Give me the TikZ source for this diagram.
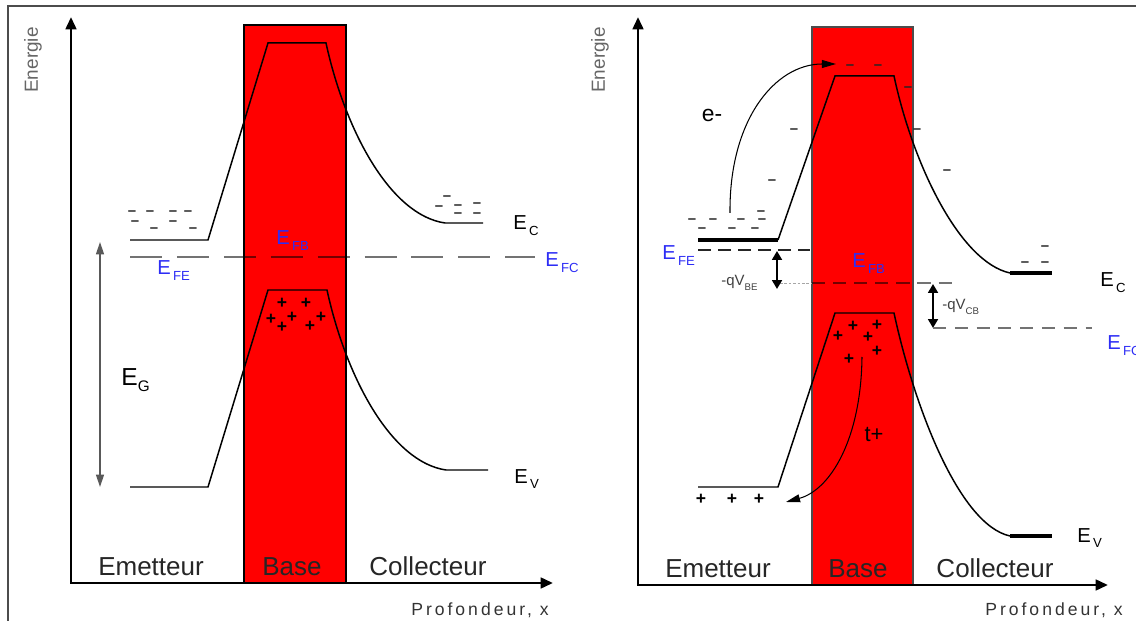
\documentclass[tikz,border=0pt]{standalone}
\usepackage{fontspec}
\setmainfont{Liberation Sans}
\newfontfamily\spacedfont[LetterSpace=17]{Liberation Sans}
\usepackage{tikz}
\usetikzlibrary{arrows.meta}

\definecolor{lvlblue}{RGB}{45,45,245}
\newcommand{\niveau}[2]{#1\raisebox{-3pt}{\fontsize{7.5}{8}\selectfont\,#2}}

\tikzset{
    cadre/.style={draw=black!70, line width=1pt},
    axe/.style={line width=1.6pt, {Triangle[length=7pt,width=6pt]}-{Triangle[length=7pt,width=6pt]}},
    baseL/.style={fill=red, draw=black, line width=1.7pt},
    baseR/.style={fill=red, draw=black!70, line width=0.8pt},
    band/.style={line width=0.85pt},
    bandthick/.style={line width=1.9pt},
    fermiline/.style={draw=black, draw opacity=0.55, line width=1.1pt, dash pattern=on 18.2pt off 8.5pt},
    efeR/.style={draw=black!85, line width=0.9pt, dash pattern=on 7.4pt off 4pt},
    efbR/.style={draw=black, draw opacity=0.55, line width=1.5pt, dash pattern=on 7.5pt off 4.5pt},
    efbthin/.style={draw=black!35, line width=0.4pt, dash pattern=on 1.5pt off 1pt},
    efcR/.style={draw=black!55, line width=1.4pt, dash pattern=on 7.4pt off 5pt},
    gaparrow/.style={draw=black!65, line width=0.7pt, {Triangle[length=7pt,width=4.5pt]}-{Triangle[length=7pt,width=4.5pt]}},
    bias/.style={line width=1.4pt, {Triangle[length=5pt,width=5.5pt]}-{Triangle[length=5pt,width=5.5pt]}},
    carrier/.style={line width=0.6pt, -{Triangle[length=8pt,width=4.5pt]}},
    region/.style={font=\fontsize{14.8}{16}\selectfont, text=black!85, inner sep=0pt, anchor=base},
    axislabel/.style={font=\fontsize{10.8}{12}\selectfont, text=black!60, inner sep=0pt},
    depthlabel/.style={font=\spacedfont\fontsize{10}{11}\selectfont, text=black!80, inner sep=0pt, anchor=base},
    lvlE/.style={font=\fontsize{11.5}{13}\selectfont, inner sep=0pt, anchor=base west},
    fermi/.style={lvlE, text=lvlblue},
    el/.style={font=\bfseries\fontsize{8.5}{9}\selectfont, inner sep=0pt, text=black!85},
    hole/.style={font=\bfseries\fontsize{10}{11}\selectfont, inner sep=0pt},
}

\begin{document}
\begin{tikzpicture}[x=0.02cm, y=-0.02cm]
    \useasboundingbox (0, 0) rectangle (1136, 621);
    \draw[cadre] (8, 621) -- (8, 6) -- (1136, 6);

    % left: equilibrium
    \filldraw[baseL] (244, 25) rectangle (346, 583);
    \draw[band] (130, 240) -- (208, 240) -- (268, 43) -- (326, 43) .. controls (345, 130) and (390, 215) .. (445, 223) -- (483, 223);
    \draw[band] (130, 487) -- (208, 487) -- (268, 290) -- (327, 290) .. controls (346, 377) and (391, 462) .. (446, 470) -- (488, 470);
    \draw[fermiline] (130, 257) -- (535, 257);

    \coordinate (yL) at (71, 17);
    \coordinate (oL) at (71, 583);
    \coordinate (xL) at (553, 583);
    \draw[axe] (yL) -- (oL) -- (xL);

    \node[axislabel, rotate=90] at (33, 60) (enL) {Energie};
    \node[depthlabel] at (480, 615) (prL) {Profondeur, x};
    \node[region] at (151, 575) (emL) {Emetteur};
    \node[region] at (292, 575) (baL) {Base};
    \node[region] at (428, 575) (coL) {Collecteur};

    % electrons and holes
    \foreach \x/\y [count=\i] in {132/213, 150/213, 173/213, 188/213, 135/223, 173/223, 154/230, 193/230,
                                  447/198, 439/208, 458/207, 477/205, 458/215, 477/215}
        \node[el] (eL\i) at (\x, \y) {--};
    \foreach \x/\y [count=\i] in {282/303, 306/303, 271/319, 292/317, 282/327, 310/326, 321/317}
        \node[hole] (hL\i) at (\x, \y) {+};

    % gap
    \coordinate (gTop) at (100, 242);
    \coordinate (gBot) at (100, 487);
    \draw[gaparrow] (gTop) -- (gBot);
    \node[font=\fontsize{14}{15}\selectfont, inner sep=0pt, anchor=base west] at (121, 386) (eg) {E\raisebox{-3pt}{\fontsize{8.7}{9}\selectfont G}};

    \node[lvlE] at (513, 230) (ecL) {\niveau{E}{C}};
    \node[lvlE] at (514, 483) (evL) {\niveau{E}{V}};
    \node[fermi] at (157, 275) (efeL) {\niveau{E}{FE}};
    \node[fermi] at (276, 245) (efbL) {\niveau{E}{FB}};
    \node[fermi] at (545, 267) (efcL) {\niveau{E}{FC}};

    % right: polarised
    \filldraw[baseR] (812, 27) rectangle (913, 585);
    \draw[bandthick] (698, 240) -- (778, 240);
    \draw[band] (778, 240) -- (835, 76) -- (894, 76) .. controls (913, 165) and (960, 262) .. (1010, 273);
    \draw[bandthick] (1010, 273) -- (1052, 273);
    \draw[band] (698, 487) -- (778, 487) -- (835, 313) -- (894, 313) .. controls (915, 410) and (960, 525) .. (1010, 536);
    \draw[bandthick] (1010, 536) -- (1052, 536);

    \draw[efeR] (698, 250) -- (810, 250);
    \draw[efbthin] (780, 283) -- (812, 283);
    \draw[efbR] (812, 283) -- (953, 283);

    \coordinate (beTop) at (777, 251);
    \coordinate (beBot) at (777, 289);
    \draw[bias] (beTop) -- (beBot);
    \coordinate (cbTop) at (933, 284);
    \coordinate (cbBot) at (933, 328);
    \draw[bias] (cbTop) -- (cbBot);
    \draw[efcR] (cbBot) -- (1092, 328);

    \coordinate (yR) at (638, 17);
    \coordinate (oR) at (638, 585);
    \coordinate (xR) at (1108, 585);
    \draw[axe] (yR) -- (oR) -- (xR);

    \node[axislabel, rotate=90] at (600, 60) (enR) {Energie};
    \node[depthlabel] at (1054, 615) (prR) {Profondeur, x};
    \node[region] at (718, 577) (emR) {Emetteur};
    \node[region] at (858, 577) (baR) {Base};
    \node[region] at (995, 577) (coR) {Collecteur};

    \foreach \x/\y [count=\i] in {850/67, 878/67, 908/89, 794/131, 917/131, 772/182, 947/172,
                                  761/213, 692/221, 713/221, 741/221, 762/221, 702/230, 732/230, 755/230,
                                  1045/248, 1025/264, 1045/264}
        \node[el] (eR\i) at (\x, \y) {--};
    \foreach \x/\y [count=\i] in {853/326, 877/325, 838/336, 868/337, 877/351, 849/359, 701/499, 732/499, 759/499}
        \node[hole] (hR\i) at (\x, \y) {+};

    % injection
    \coordinate (eStart) at (730, 213);
    \coordinate (eEnd) at (836, 64);
    \draw[carrier] (eStart) .. controls (729, 120) and (775, 64) .. (eEnd);
    \node[font=\fontsize{13}{14}\selectfont, inner sep=0pt] at (712, 115) (eminus) {e-};
    \coordinate (tStart) at (862, 357);
    \coordinate (tEnd) at (786, 502);
    \draw[carrier] (tStart) .. controls (861, 440) and (830, 490) .. (tEnd);
    \node[font=\fontsize{12.5}{14}\selectfont, inner sep=0pt] at (874, 434) (tplus) {t+};

    \node[font=\fontsize{8.5}{9}\selectfont, text=black!75, inner sep=0pt, anchor=base west] at (721, 286) (qbe) {-qV\raisebox{-2.5pt}{\fontsize{5.5}{6}\selectfont BE}};
    \node[font=\fontsize{8.5}{9}\selectfont, text=black!75, inner sep=0pt, anchor=base west] at (942, 310) (qcb) {-qV\raisebox{-2.5pt}{\fontsize{5.5}{6}\selectfont CB}};

    \node[lvlE] at (1100, 287) (ecR) {\niveau{E}{C}};
    \node[lvlE] at (1077, 542) (evR) {\niveau{E}{V}};
    \node[fermi] at (662, 260) (efeR) {\niveau{E}{FE}};
    \node[fermi] at (852, 268) (efbR) {\niveau{E}{FB}};
    \node[fermi] at (1107, 350) (efcR) {\niveau{E}{FC}};
\end{tikzpicture}
\end{document}
